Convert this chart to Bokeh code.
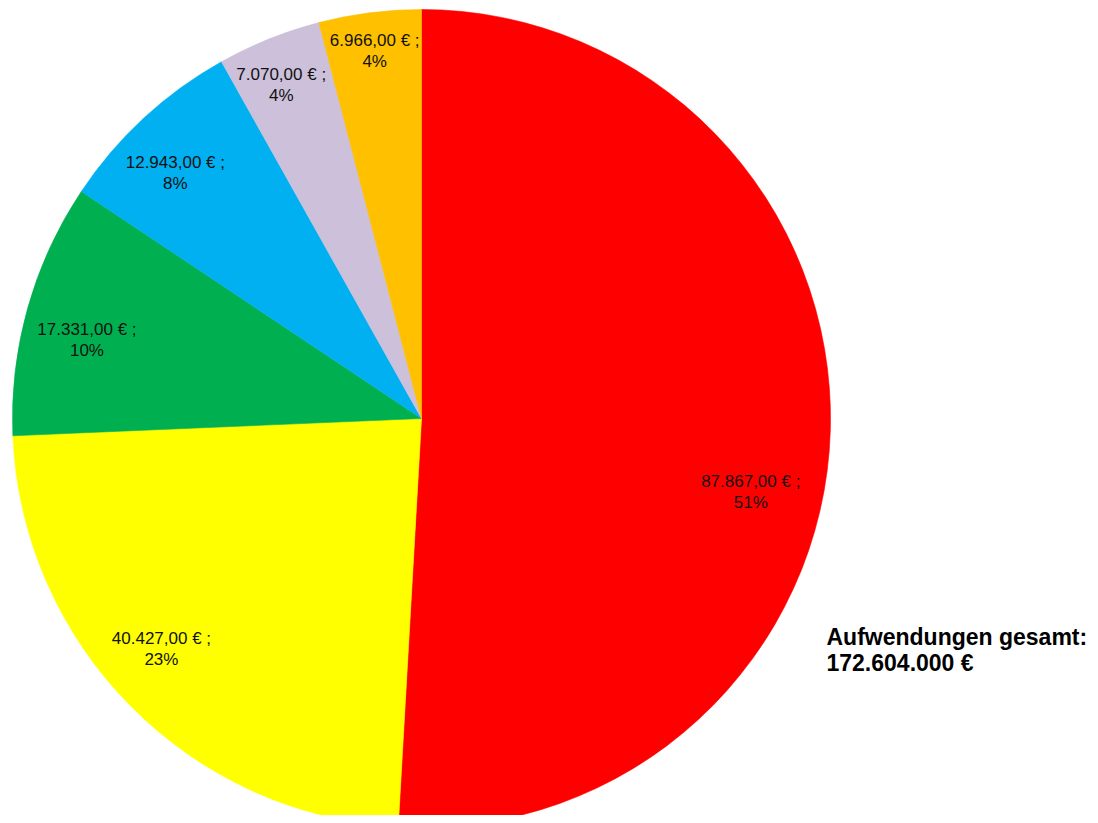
import math
from bokeh.plotting import figure
from bokeh.models import Range1d, ColumnDataSource, Label
from bokeh.core.properties import value
from bokeh.embed import file_html
from bokeh.resources import INLINE

# ---- data (clockwise from 12 o'clock) ----
values = [87867.00, 40427.00, 17331.00, 12943.00, 7070.00, 6966.00]
pct_labels = ["51%", "23%", "10%", "8%", "4%", "4%"]
colors = ["#FF0000", "#FFFF00", "#00B050", "#00B0F0", "#CCC0DA", "#FFC000"]
total_label = ["Aufwendungen gesamt:", "172.604.000 €"]

# ---- layout ----
W, H = 1090, 815
CX, CY, R = 421, -418, 409
label_r = [0.825, 0.85, 0.84, 0.85, 0.885, 0.905]
label_nudge_deg = [-11.0, -3.0, 2.5, 2.3, 0.9, 0.0]


def de_money(v):
    s = f"{v:,.2f}"
    s = s.replace(",", "X").replace(".", ",").replace("X", ".")
    return s + " € ;"


tot = sum(values)
starts, ends, lx, ly, texts = [], [], [], [], []
a = math.pi / 2
for i, v in enumerate(values):
    span = 2 * math.pi * v / tot
    s, e = a, a - span
    starts.append(s)
    ends.append(e)
    mid = (s + e) / 2 + math.radians(label_nudge_deg[i])
    lx.append(CX + label_r[i] * R * math.cos(mid))
    ly.append(CY + label_r[i] * R * math.sin(mid))
    texts.append(de_money(v) + "\n" + pct_labels[i])
    a = e

src = ColumnDataSource(dict(start=starts, end=ends, color=colors))
lsrc = ColumnDataSource(dict(x=lx, y=ly, text=texts))

p = figure(width=W, height=H, output_backend="svg", toolbar_location=None,
           x_range=Range1d(0, W), y_range=Range1d(-H, 0),
           x_axis_location=None, y_axis_location=None, min_border=0,
           tools="")
p.outline_line_color = None
p.grid.visible = False
p.background_fill_color = "white"
p.border_fill_color = "white"

# wedge drawn with start/end swapped because direction is clockwise
p.wedge(x=CX, y=CY, radius=R, start_angle="end", end_angle="start",
        fill_color="color", line_color="color", line_width=0.6, source=src)

p.text(x="x", y="y", text="text", source=lsrc, text_align="center",
       text_baseline="middle", text_font=value("Liberation Sans"),
       text_font_size="17px", text_color="#111111", text_line_height=1.1)

for i, t in enumerate(total_label):
    p.add_layout(Label(x=826, y=-636 - 26 * i, text=t, text_align="left",
                       text_baseline="alphabetic", text_font="Liberation Sans",
                       text_font_style="bold", text_font_size="23px",
                       text_color="black"))

open("out.html", "w").write(file_html(p, INLINE))
